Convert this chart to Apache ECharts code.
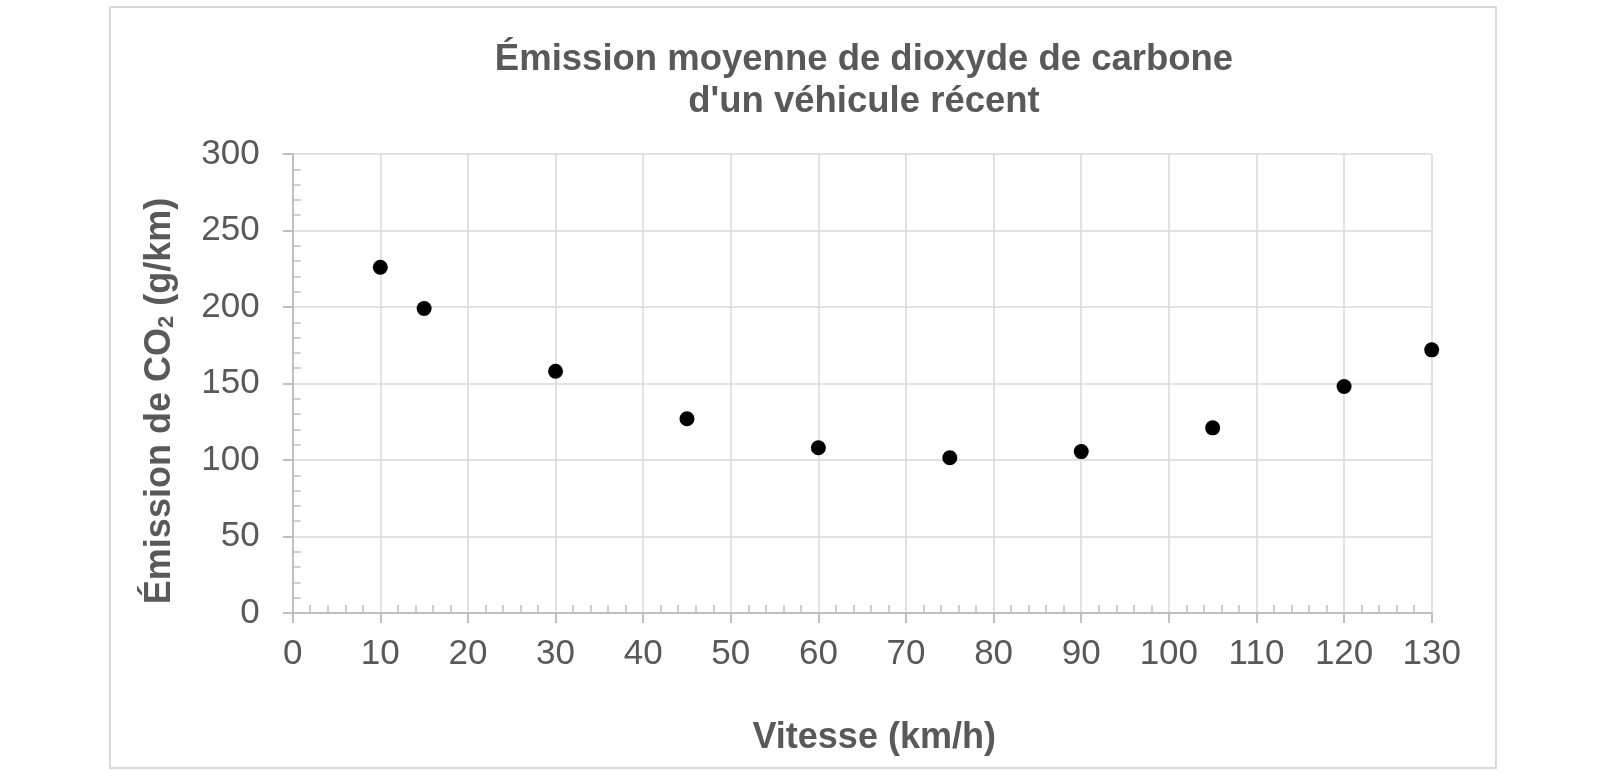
<!DOCTYPE html>
<html>
<head>
<meta charset="utf-8">
<script src="https://cdn.jsdelivr.net/npm/echarts@6/dist/echarts.min.js"></script>
<style>
html,body{margin:0;padding:0;background:#fff;}
#chart{width:1606px;height:777px;}
</style>
</head>
<body>
<div id="chart"></div>
<script>
const speeds = [10, 15, 30, 45, 60, 75, 90, 105, 120, 130];
const emissions = [226, 199, 158, 127, 108, 101.5, 105.5, 121, 148, 172];
const xTicks = [0, 10, 20, 30, 40, 50, 60, 70, 80, 90, 100, 110, 120, 130];
const yTicks = [0, 50, 100, 150, 200, 250, 300];
const titleLines = ['Émission moyenne de dioxyde de carbone', "d'un véhicule récent"];
const xName = 'Vitesse (km/h)';

const FONT = '"Liberation Sans", Arial, sans-serif';
const TXT = '#595959';
const chart = echarts.init(document.getElementById('chart'), null, {renderer: 'canvas'});

const axisCommon = {
  type: 'value',
  axisLine: {show: true, lineStyle: {color: '#bfbfbf', width: 2}},
  axisTick: {show: true, length: 10, lineStyle: {color: '#bfbfbf', width: 2}},
  minorTick: {show: true, splitNumber: 5, length: -8, lineStyle: {color: '#bfbfbf', width: 1.5}},
  splitLine: {show: true, lineStyle: {color: '#d9d9d9', width: 1.5}},
  minorSplitLine: {show: false}
};

chart.setOption({
  backgroundColor: '#fff',
  animation: false,
  title: {
    text: titleLines.join('\n'),
    left: 864,
    top: 39,
    padding: 0,
    textAlign: 'center',
    textStyle: {fontFamily: FONT, fontSize: 36.5, fontWeight: 'bold', color: TXT, lineHeight: 42}
  },
  graphic: [{
    type: 'rect',
    shape: {x: 110, y: 7, width: 1386, height: 761},
    style: {fill: 'none', stroke: '#d9d9d9', lineWidth: 2},
    silent: true
  }],
  grid: {left: 292.7, right: 174.3, top: 154, bottom: 164, containLabel: false},
  xAxis: Object.assign({}, axisCommon, {
    min: xTicks[0], max: xTicks[xTicks.length - 1], interval: xTicks[1] - xTicks[0],
    name: xName,
    nameLocation: 'middle',
    nameGap: 107,
    nameTextStyle: {fontFamily: FONT, fontSize: 36, fontWeight: 'bold', color: TXT, padding: [0, 0, 0, 24]},
    axisLabel: {fontFamily: FONT, fontSize: 35, color: TXT, margin: 24}
  }),
  yAxis: Object.assign({}, axisCommon, {
    min: yTicks[0], max: yTicks[yTicks.length - 1], interval: yTicks[1] - yTicks[0],
    name: '{b|Émission de CO}{s|2}{b| (g/km)}',
    nameLocation: 'middle',
    nameGap: 115,
    nameTextStyle: {
      fontFamily: FONT, fontSize: 36, fontWeight: 'bold', color: TXT, padding: [0, 35, 0, 0],
      rich: {
        b: {fontFamily: FONT, fontSize: 36, fontWeight: 'bold', color: TXT},
        s: {fontFamily: FONT, fontSize: 22, fontWeight: 'bold', color: TXT, verticalAlign: 'bottom', padding: [10, 0, 0, 0]}
      }
    },
    axisLabel: {fontFamily: FONT, fontSize: 35, color: TXT, margin: 33}
  }),
  series: [{
    type: 'scatter',
    data: speeds.map((s, i) => [s, emissions[i]]),
    symbol: 'circle',
    symbolSize: 15,
    itemStyle: {color: '#000', opacity: 1}
  }]
});
</script>
</body>
</html>
